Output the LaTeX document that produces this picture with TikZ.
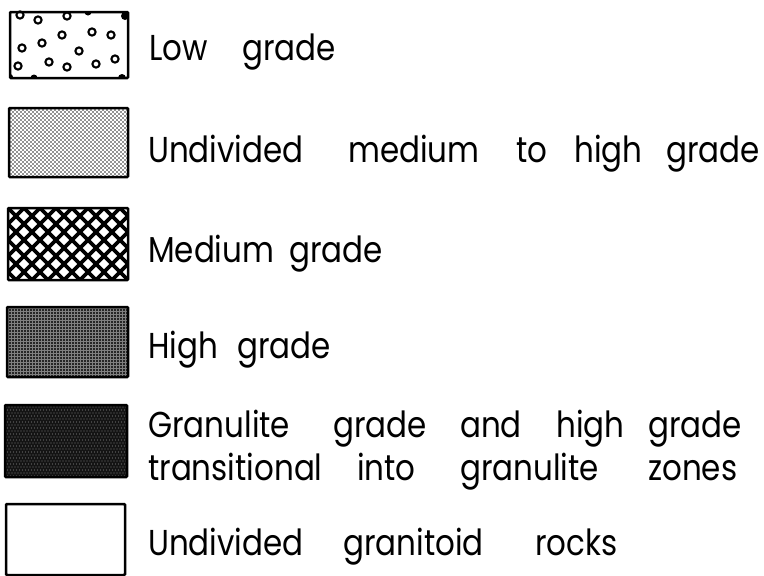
\documentclass[tikz,border=0pt]{standalone}
\usepackage{fontspec}
\setmainfont[FakeStretch=0.86]{Poppins}
\tikzset{
  legtext/.style={anchor=base west, inner sep=0pt, font=\fontsize{36}{40}\selectfont},
  frame/.style={draw=black, line width=2.5pt, rounded corners=1pt},
  ring/.style={draw=black, line width=2.1pt}
}
\begin{document}
\begin{tikzpicture}[x=1pt,y=-1pt]
\useasboundingbox (0,0) rectangle (764,576);
% ---------- box 1: low grade (rings)
\foreach \p in {(20,15),(38,20),(67,16),(62,35),(92,32),(111,35),(22,48),(42,43),(79,51),(18,66),(49,62),(67,67),(96,64),(115,59)}
  \draw[ring] \p circle (3.6);
\begin{scope}
\clip (10,12) rectangle (128,78);
\fill (88,12) circle (3.5);
\fill (125,16) circle (4);
\fill (34,78) circle (3.5);
\fill (122,78) circle (4);
\fill (10,77) circle (3);
\end{scope}
\draw[frame] (10,12) rectangle (128,78);
% ---------- box 2: fine dots
\begin{scope}
\clip (9,108) rectangle (128,177);
\foreach \i in {0,...,30}{
  \foreach \j in {0,...,17}{
    \fill[black!85] ({9+4*\i},{108+4*\j}) circle (0.8);
    \fill[black!85] ({11+4*\i},{110+4*\j}) circle (0.8);
  }
}
\end{scope}
\draw[frame] (9,108) rectangle (128,177);
% ---------- box 3: crosshatch
\begin{scope}
\clip (8,208) rectangle (128,280);
\foreach \k in {-7,...,14}{
  \draw[line width=3.6pt] ({8+16*\k},208) -- ({8+16*\k+80},288);
  \draw[line width=3.6pt] ({8+16*\k},208) -- ({8+16*\k-80},288);
}
\end{scope}
\draw[frame] (8,208) rectangle (128,280);
% ---------- box 4: high grade (fine grid)
\begin{scope}
\clip (7,307) rectangle (128,377);
\fill[black!85] (7,307) rectangle (128,377);
\foreach \k in {0,...,41}{
  \draw[black!50, line width=0.8pt] ({8+3*\k},307) -- ({8+3*\k},377);
}
\foreach \k in {0,...,23}{
  \draw[black!50, line width=0.8pt] (7,{308+3*\k}) -- (128,{308+3*\k});
}
\end{scope}
\draw[frame] (7,307) rectangle (128,377);
% ---------- box 5: granulite grade (near black)
\begin{scope}
\clip (5,405) rectangle (127,477);
\fill[black!92] (5,405) rectangle (127,477);
\foreach \i in {0,...,40}{
  \foreach \j in {0,...,12}{
    \fill[black!55] ({6+3*\i},{407+6*\j}) circle (0.6);
    \fill[black!55] ({7.5+3*\i},{410+6*\j}) circle (0.6);
  }
}
\end{scope}
\draw[frame] (5,405) rectangle (127,477);
% ---------- box 6: empty
\draw[frame] (6,504) rectangle (125,575);
% ---------- texts
\node[legtext] (t1a) at (149,60) {Low};
\node[legtext] (t1b) at (242,60) {grade};
\node[legtext] (t2a) at (148,162) {Undivided};
\node[legtext] (t2b) at (348,162) {medium};
\node[legtext] (t2c) at (516,162) {to};
\node[legtext] (t2d) at (574,162) {high};
\node[legtext] (t2e) at (666,162) {grade};
\node[legtext] (t3a) at (148,262) {Medium};
\node[legtext] (t3b) at (289,262) {grade};
\node[legtext] (t4a) at (148,358) {High};
\node[legtext] (t4b) at (237,358) {grade};
\node[legtext] (t5a) at (148,437) {Granulite};
\node[legtext] (t5b) at (333,437) {grade};
\node[legtext] (t5c) at (460,437) {and};
\node[legtext] (t5d) at (556,437) {high};
\node[legtext] (t5e) at (648,437) {grade};
\node[legtext] (t6a) at (148,480) {transitional};
\node[legtext] (t6b) at (357,480) {into};
\node[legtext] (t6c) at (460,480) {granulite};
\node[legtext] (t6d) at (648,480) {zones};
\node[legtext] (t7a) at (148,555) {Undivided};
\node[legtext] (t7b) at (343,555) {granitoid};
\node[legtext] (t7c) at (535,555) {rocks};
\end{tikzpicture}
\end{document}
